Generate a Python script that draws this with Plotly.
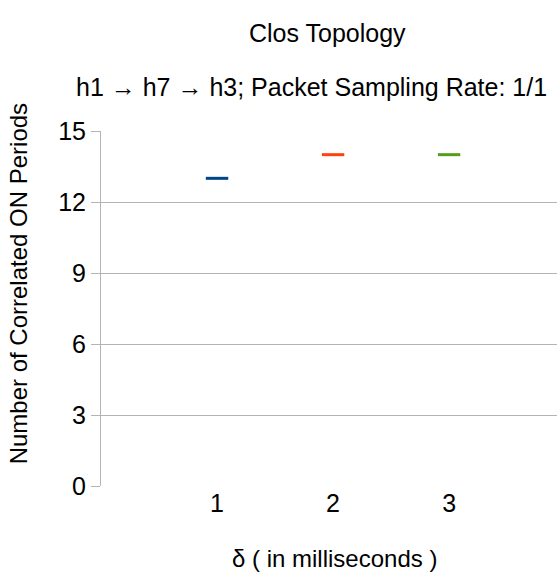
import plotly.graph_objects as go

deltas = [1, 2, 3]
correlated_on = [13, 14, 14]
series_colors = ["#004586", "#ff420e", "#579d1c"]
y_ticks = [0, 3, 6, 9, 12, 15]

FONT = "Liberation Sans, Arial, sans-serif"
TITLE_SIZE = 25
AXIS_TITLE_SIZE = 24
TICK_SIZE = 25

fig = go.Figure()
for d, v, c in zip(deltas, correlated_on, series_colors):
    fig.add_trace(go.Scatter(
        x=[d], y=[v], mode="markers",
        marker=dict(symbol="line-ew", size=16, line=dict(color=c, width=3)),
        showlegend=False, hoverinfo="x+y",
    ))

fig.update_layout(
    width=557, height=578,
    margin=dict(l=101, r=0, t=131, b=92, pad=0),
    paper_bgcolor="white", plot_bgcolor="white",
    font=dict(family=FONT, size=TICK_SIZE, color="#000000"),
    showlegend=False,
    xaxis=dict(
        range=[0, 3.93], tickvals=deltas, ticktext=[str(d) for d in deltas],
        showgrid=False, zeroline=False, showline=False,
        ticks="", tickfont=dict(size=TICK_SIZE, color="#000000"),
        fixedrange=True,
    ),
    yaxis=dict(
        range=[0, 15], tickvals=y_ticks,
        showgrid=True, gridcolor="#b3b3b3", gridwidth=1,
        zeroline=False, showline=True, linecolor="#b3b3b3", linewidth=1,
        ticks="outside", ticklen=9, tickcolor="#b3b3b3",
        tickfont=dict(size=TICK_SIZE, color="#000000"),
        fixedrange=True,
    ),
    annotations=[
        dict(text="Clos Topology", xref="paper", yref="paper",
             x=0.496, y=1.275, showarrow=False, xanchor="center", yanchor="middle",
             font=dict(size=TITLE_SIZE, family=FONT, color="#000000")),
        dict(text="h1 → h7 → h3; Packet Sampling Rate: 1/1", xref="paper", yref="paper",
             x=0.461, y=1.123, showarrow=False, xanchor="center", yanchor="middle",
             font=dict(size=TITLE_SIZE, family=FONT, color="#000000")),
        dict(text="Number of Correlated ON Periods", xref="paper", yref="paper",
             x=-0.182, y=0.568, showarrow=False, xanchor="center", yanchor="middle",
             textangle=-90, font=dict(size=AXIS_TITLE_SIZE, family=FONT, color="#000000")),
        dict(text="δ ( in milliseconds )", xref="paper", yref="paper",
             x=0.511, y=-0.204, showarrow=False, xanchor="center", yanchor="middle",
             font=dict(size=AXIS_TITLE_SIZE, family=FONT, color="#000000")),
    ],
)

fig.write_html("out.html")
